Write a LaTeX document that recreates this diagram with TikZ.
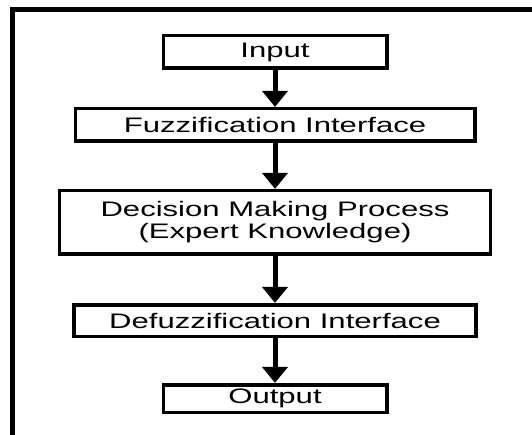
\documentclass[tikz,border=0pt]{standalone}
\usepackage{fontspec}
\setmainfont{Liberation Sans}[FakeStretch=1.48]
\usetikzlibrary{arrows.meta}

\tikzset{
  stagebox/.style={draw, line width=3.6pt, rectangle, inner sep=0pt,
    align=center, font=\fontsize{21}{22}\selectfont},
  flowarrow/.style={line width=5pt,
    -{Triangle[width=25pt, length=16pt]}},
  framepath/.style={line width=4.4pt}
}

\begin{document}
\begin{tikzpicture}[x=1pt, y=-1pt]
  \useasboundingbox (0,0) rectangle (532,435);

  % outer frame, running off the right and bottom edges
  \begin{scope}
    \clip (0,0) rectangle (532,435);
    \draw[framepath] (12.5,440) -- (12.5,9.5) -- (540,9.5);
  \end{scope}

  % processing stages
  \node[stagebox, minimum width=223.4pt, minimum height=32.6pt] (in)  at (275,52)    {Input};
  \node[stagebox, minimum width=399.4pt, minimum height=32.6pt] (fuz) at (275,125)   {Fuzzification Interface};
  \node[stagebox, minimum width=431pt,   minimum height=63.6pt] (dec) at (275,222.5) {Decision Making Process\\(Expert Knowledge)};
  \node[stagebox, minimum width=402.4pt, minimum height=31.6pt] (def) at (275,320.5) {Defuzzification Interface};
  \node[stagebox, minimum width=223.4pt, minimum height=27.6pt] (out) at (275,398.5) {Output};

  % flow between stages
  \draw[flowarrow] (in.south)  -- (fuz.north);
  \draw[flowarrow] (fuz.south) -- (dec.north);
  \draw[flowarrow] (dec.south) -- (def.north);
  \draw[flowarrow] (def.south) -- (out.north);
\end{tikzpicture}
\end{document}
